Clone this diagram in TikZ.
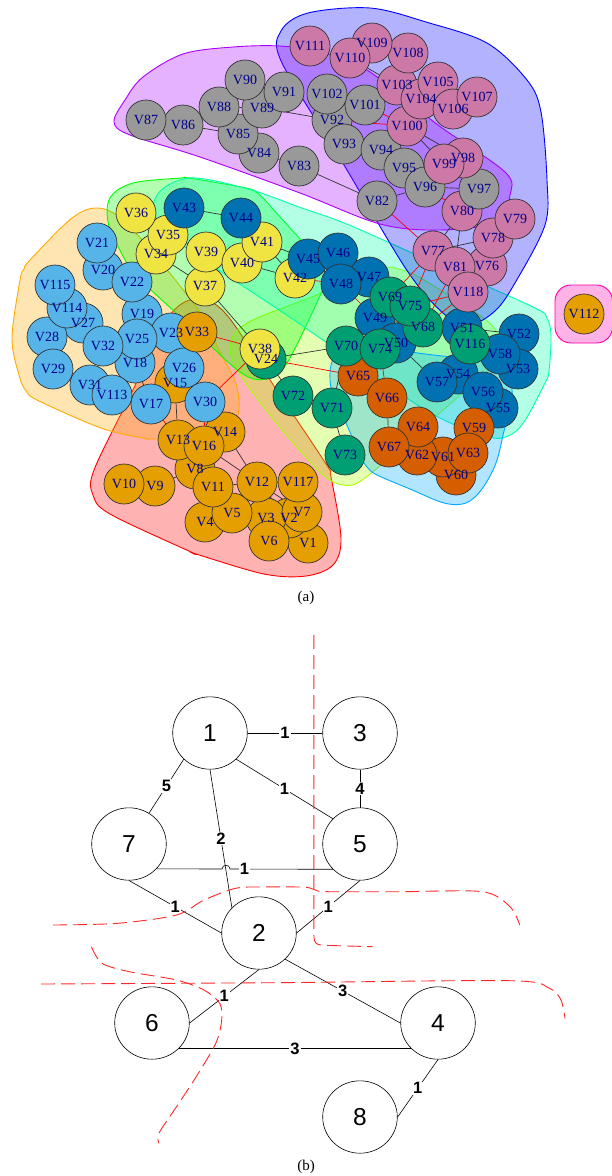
\documentclass[tikz,border=0pt]{standalone}
\usepackage{fontspec}
\setmainfont{Liberation Serif}
\newfontfamily\arialf{Liberation Sans}
\usetikzlibrary{shapes.geometric}
\pgfdeclarelayer{bg}\pgfdeclarelayer{hull}\pgfdeclarelayer{edge}
\pgfsetlayers{bg,hull,edge,main}
\definecolor{cOr}{HTML}{E69F00}\definecolor{cSb}{HTML}{56B4E9}
\definecolor{cGr}{HTML}{009E73}\definecolor{cYe}{HTML}{F0E442}
\definecolor{cBl}{HTML}{0072B2}\definecolor{cVe}{HTML}{D55E00}
\definecolor{cPk}{HTML}{CC79A7}\definecolor{cGy}{HTML}{999999}
\definecolor{hR}{HTML}{FF0000}\definecolor{hO}{HTML}{FFAA00}
\definecolor{hYG}{HTML}{AAFF00}\definecolor{hG}{HTML}{00FF00}
\definecolor{hAq}{HTML}{00FFAA}\definecolor{hLB}{HTML}{00AAFF}
\definecolor{hB}{HTML}{0000FF}\definecolor{hP}{HTML}{AA00FF}
\definecolor{hPk}{HTML}{FF00AA}\definecolor{labc}{HTML}{00008B}
\definecolor{cutc}{RGB}{255,40,40}
\begin{document}
\begin{tikzpicture}[x=1pt,y=-1pt,
  vtx/.style={circle,draw=black!80,line width=0.7pt,minimum size=40pt,inner sep=0pt},
  vlab/.style={text=labc,font=\fontsize{14}{14}\selectfont,inner sep=0pt},
  hull/.style={line width=0.9pt,fill opacity=0.3},
  ed/.style={draw=black!80,line width=0.7pt},
  rd/.style={draw=red,line width=0.7pt},
  bnode/.style={ellipse,draw=black,line width=0.6pt,minimum width=74.6pt,minimum height=72.4pt,inner sep=0pt,font=\arialf\fontsize{24.5}{24.5}\selectfont},
  bed/.style={draw=black,line width=0.6pt},
  elab/.style={fill=white,inner sep=1pt,font=\arialf\bfseries\fontsize{16.5}{16.5}\selectfont},
  cutline/.style={draw=cutc,line width=0.9pt,dash pattern=on 14pt off 6pt},
  captxt/.style={font=\fontsize{15}{15}\selectfont}]
\useasboundingbox (0,0) rectangle (612,1176);
\begin{pgfonlayer}{bg}
\fill[white] (0,0) rectangle (612,1176);
\end{pgfonlayer}
% ---------------- hulls ----------------
\begin{pgfonlayer}{hull}
\filldraw[hull,draw=hR,fill=hR] plot[smooth cycle,tension=0.55] coordinates {(168,318) (196,299) (226,314) (276,389) (326,464) (331,477) (341,538) (333,565) (306,576) (264,574) (196,554) (191,552) (110,514) (93,495) (94,470) (131,394)};
\filldraw[hull,draw=hO,fill=hO] plot[smooth cycle,tension=0.55] coordinates {(72,218) (98,208) (123,220) (159,260) (201,314) (220,352) (237,387) (236,420) (207,437) (152,439) (143,438) (101,428) (39,401) (26,391) (19,375) (12,338) (20,280) (24,269) (30,260)};
\filldraw[hull,draw=hYG,fill=hYG] plot[smooth cycle,tension=0.55] coordinates {(236,368) (231,342) (249,322) (314,296) (379,269) (402,270) (424,280) (486,320) (500,343) (490,368) (428,423) (365,478) (343,485) (323,475) (296,446) (270,415)};
\filldraw[hull,draw=hG,fill=hG] plot[smooth cycle,tension=0.55] coordinates {(109,226) (110,198) (133,183) (181,178) (189,178) (246,188) (256,192) (263,198) (290,228) (317,258) (325,274) (322,291) (287,363) (266,379) (240,372) (188,324) (136,276) (129,267)};
\filldraw[hull,draw=hAq,fill=hAq] plot[smooth cycle,tension=0.55] coordinates {(167,233) (156,197) (189,178) (248,189) (299,207) (349,225) (441,266) (533,307) (547,318) (551,336) (549,371) (545,383) (524,422) (508,436) (486,436) (424,409) (294,320)};
\filldraw[hull,draw=hLB,fill=hLB] plot[smooth cycle,tension=0.55] coordinates {(331,388) (334,358) (362,346) (425,354) (487,362) (508,375) (512,399) (504,431) (496,463) (482,489) (466,503) (444,503) (410,489) (377,475) (368,468) (362,459) (346,423)};
\filldraw[hull,draw=hB,fill=hB] plot[smooth cycle,tension=0.55] coordinates {(282,63) (281,31) (308,13) (370,8) (426,22) (487,43) (527,80) (541,112) (547,180) (545,225) (515,283) (495,311) (469,325) (443,313) (406,269) (344,165)};
\filldraw[hull,draw=hP,fill=hP] plot[smooth cycle,tension=0.55] coordinates {(114,122) (125,100) (143,77) (183,54) (233,47) (280,46) (320,52) (367,70) (438,125) (505,172) (510,195) (497,222) (440,230) (380,224) (300,193) (200,157) (130,135)};
\filldraw[hull,draw=hPk,fill=hPk,rounded corners=16pt] (555,285) rectangle (612.5,343);
\end{pgfonlayer}
% ---------------- vertices ----------------
\foreach \i/\px/\py/\c in {
1/308/543/cOr,2/289/518/cOr,3/266/518/cOr,4/205/522/cOr,5/232/513/cOr,6/269/541/cOr,
7/302/512/cOr,8/195/469/cOr,9/155/486/cOr,10/124/484/cOr,11/213/487/cOr,12/257/482/cOr,
13/178/440/cOr,14/225/432/cOr,15/175/383/cOr,16/204/446/cOr,17/151/404/cSb,18/135/363/cSb,
19/142/314/cSb,20/103/270/cSb,21/97/243/cSb,22/132/282/cSb,23/171/333/cSb,24/266/359/cGr,
25/137/339/cSb,26/184/368/cSb,27/83/323/cSb,28/47/337/cSb,29/53/369/cSb,30/205/402/cSb,
31/90/385/cSb,32/103/346/cSb,33/197/332/cOr,34/156/254/cYe,35/168/235/cYe,36/136/213/cYe,
37/205/286/cYe,38/260/349/cYe,39/206/252/cYe,40/242/263/cYe,41/262/242/cYe,42/295/278/cYe,
43/184/208/cBl,44/241/218/cBl,45/308/259/cBl,46/338/253/cBl,47/369/277/cBl,48/341/284/cBl,
49/375/318/cBl,50/396/343/cBl,51/462/328/cBl,52/519/334/cBl,53/518/369/cBl,54/458/374/cBl,
55/498/408/cBl,56/483/392/cBl,57/437/382/cBl,58/500/354/cBl,59/474/428/cVe,60/456/475/cVe,
61/443/457/cVe,62/417/455/cVe,63/468/453/cVe,64/418/427/cVe,65/358/376/cVe,66/387/398/cVe,
67/389/447/cVe,68/423/327/cGr,69/390/297/cGr,70/346/346/cGr,71/332/408/cGr,72/293/396/cGr,
73/345/455/cGr,74/380/349/cGr,75/410/306/cGr,76/487/266/cPk,77/433/251/cPk,78/493/238/cPk,
79/515/219/cPk,80/462/211/cPk,81/455/267/cPk,82/377/201/cGy,83/299/166/cGy,84/259/153/cGy,
85/238/134/cGy,86/183/125/cGy,87/146/120/cGy,88/219/107/cGy,89/262/108/cGy,90/245/80/cGy,
91/284/92/cGy,92/332/120/cGy,93/344/144/cGy,94/381/150/cGy,95/404/168/cGy,96/425/187/cGy,
97/479/189/cGy,98/463/158/cPk,99/444/164/cPk,100/407/126/cPk,101/365/105/cGy,102/327/94/cGy,
103/397/85/cPk,104/421/99/cPk,105/438/82/cPk,106/453/109/cPk,107/477/97/cPk,108/408/53/cPk,
109/372/43/cPk,110/350/58/cPk,111/310/46/cPk,112/584/314/cOr,113/112/395/cSb,114/67/308/cSb,
115/55/285/cSb,116/470/344/cGr,117/298/482/cOr,118/468/292/cPk}
{\node[vtx,fill=\c] (v\i) at (\px,\py) {};}
\foreach \i in {1,...,118} {\node[vlab] (t\i) at (v\i) {V\i};}
% ---------------- edges ----------------
\begin{pgfonlayer}{edge}
\foreach \a/\b in {87/86,86/85,88/85,88/89,90/89,91/89,85/84,84/83,89/92,83/82,82/96,92/93,93/94,94/95,95/96,96/97,102/92,101/92,101/102,97/98,100/98,100/99,
110/103,109/110,108/103,103/104,104/105,104/106,106/107,111/110,80/81,80/78,77/78,81/76,78/76,78/79,77/81,81/118,77/80,
43/44,41/42,40/42,41/45,37/38,34/37,35/34,36/35,39/40,39/37,41/40,44/41,35/39,
45/46,46/47,45/48,48/47,47/49,49/50,50/57,51/52,51/58,52/53,58/53,54/56,57/54,56/55,51/116,116/58,54/116,49/68,
24/70,24/72,71/73,70/74,72/71,69/75,75/68,68/74,70/71,
66/67,64/61,59/61,63/61,62/67,64/62,60/61,59/63,
15/13,14/12,16/12,8/9,11/12,12/2,12/7,11/5,3/7,117/7,6/1,13/16,13/8,16/14,8/11,4/5,10/9,3/2,2/1,12/3,117/12,
20/22,25/18,19/25,32/25,31/113,17/18,21/20,115/114,114/27,27/32,28/29,32/18,19/22,23/25}
{\draw[ed] (v\a) -- (v\b);}
\foreach \a/\b in {101/100,92/100,82/77,96/80,77/75,77/69,81/68,118/75,118/68,42/48,48/49,33/38,38/30,24/65,74/66,70/65,17/13,30/16,23/26,22/34,56/59,65/66}
{\draw[rd] (v\a) -- (v\b);}
\end{pgfonlayer}
\node[captxt] (capa) at (306,598) {(a)};
% ---------------- part (b) ----------------
\node[bnode] (n1) at (210,733) {1};
\node[bnode] (n3) at (360,733) {3};
\node[bnode] (n7) at (129,844) {7};
\node[bnode] (n5) at (360,844) {5};
\node[bnode] (n2) at (259,933) {2};
\node[bnode] (n6) at (152,1023) {6};
\node[bnode] (n4) at (438,1023) {4};
\node[bnode] (n8) at (360,1117) {8};
\coordinate (hopa) at (222,869);
\coordinate (hopb) at (230,869);
\draw[bed] (n1.east) -- node[elab] (w13) {1} (n3.west);
\draw[bed] (n1.-45) -- node[elab] (w15) {1} (n5.137);
\draw[bed] (n1.-135) -- node[elab] (w17) {5} (n7.57);
\draw[bed] (n1.south) -- node[elab] (w12) {2} (n2.137);
\draw[bed] (n3.south) -- node[elab] (w35) {4} (n5.north);
\draw[bed] (n7.-42.8) -- (hopa) .. controls +(0,-5) and +(0,-5) .. (hopb) -- node[elab,pos=0.14] (w75) {1} (n5.-137.2);
\draw[bed] (n7.south) -- node[elab] (w72) {1} (n2.west);
\draw[bed] (n5.south) -- node[elab] (w52) {1} (n2.east);
\draw[bed] (n2.south) -- node[elab] (w26) {1} (n6.east);
\draw[bed] (n2.-45) -- node[elab] (w24) {3} (n4.west);
\draw[bed] (n6.-44) -- node[elab] (w64) {3} (n4.-136);
\draw[bed] (n4.south) -- node[elab] (w48) {1} (n8.east);
% red dashed cuts
\draw[cutline] (313.8,635) -- (313.8,928) .. controls (313.8,945) .. (330,945.5) -- (372.7,946.7);
\draw[cutline] plot[smooth,tension=0.5] coordinates {(53,925) (117.7,923.3) (176.5,915) (204,900) (235.4,888.3) (260,887) (300,887) (310,888) (318,891) (330,891.7) (400,891.7) (482.5,891.7) (510,906.7) (519.8,925)};
\draw[cutline] plot[smooth,tension=0.5] coordinates {(91.4,946.7) (102,963.3) (129.5,971.7) (176.5,980) (204,990) (219.7,1003.3) (221.7,1020) (215.8,1043.3) (196.2,1076.7) (176.5,1106.7) (158.9,1133.3) (158.9,1143.3)};
\draw[cutline] plot[smooth,tension=0.5] coordinates {(41.2,984) (274.6,982.7) (510,980.7) (549.2,988.3) (561,1000) (565,1018.3)};
\node[captxt] (capb) at (306,1167) {(b)};
\end{tikzpicture}
\end{document}
